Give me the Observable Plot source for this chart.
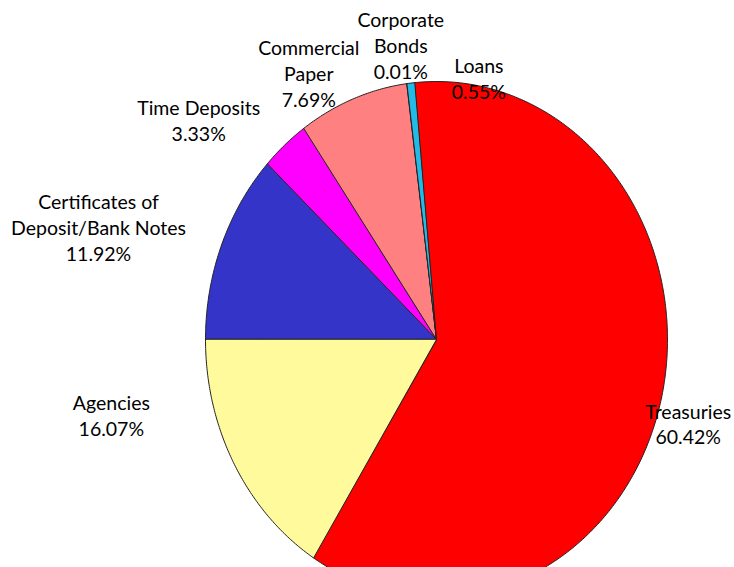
<!DOCTYPE html>
<html>
<head>
<meta charset="utf-8">
<script src="https://cdn.jsdelivr.net/npm/d3@7"></script>
<script src="https://cdn.jsdelivr.net/npm/@observablehq/plot@0.6"></script>
<style>
  html, body { margin: 0; padding: 0; background: #fff; overflow: hidden; }
  #chart { width: 734px; height: 567px; }
</style>
</head>
<body>
<div id="chart"></div>
<script>
// ---- data (clockwise from 9 o'clock) ----
const categories = ["Certificates of Deposit/Bank Notes", "Time Deposits", "Commercial Paper", "Corporate Bonds", "Loans", "Treasuries", "Agencies"];
const shares = [11.92, 3.33, 7.69, 0.01, 0.55, 60.42, 16.07];
const labelLines = [
  ["Certificates of", "Deposit/Bank Notes", "11.92%"],
  ["Time Deposits", "3.33%"],
  ["Commercial", "Paper", "7.69%"],
  ["Corporate", "Bonds", "0.01%"],
  ["Loans", "0.55%"],
  ["Treasuries", "60.42%"],
  ["Agencies", "16.07%"]
];
const colors = ["#3434C8", "#FF00FF", "#FF8080", "#1E90D0", "#22BBE8", "#FF0000", "#FFFA9C"];

// ---- layout (pixel offsets of each label from its slice's rim midpoint) ----
const RX = 231, RY = 258;
const labelOffsets = [[-123, -18], [-86, -25], [-44, -26], [-6, -39], [68, -5], [27, 24], [-123, -50]];

// ---- geometry from data ----
const total = d3.sum(shares);
const startAngle = -Math.PI / 2; // 9 o'clock, clockwise
let acc = startAngle;
const slices = shares.map((v, i) => {
  const a0 = acc, a1 = acc + v / total * 2 * Math.PI;
  acc = a1;
  return {name: categories[i], a0, a1, mid: (a0 + a1) / 2};
});
const poly = [];
for (const s of slices) {
  poly.push({name: s.name, x: 0, y: 0});
  const n = Math.max(2, Math.ceil((s.a1 - s.a0) / (Math.PI / 360)));
  for (let k = 0; k <= n; ++k) {
    const a = s.a0 + (s.a1 - s.a0) * k / n;
    poly.push({name: s.name, x: Math.sin(a), y: Math.cos(a)});
  }
}
const labels = slices.map((s, i) => ({
  text: labelLines[i].join("\n"),
  x: Math.sin(s.mid) + labelOffsets[i][0] / RX,
  y: Math.cos(s.mid) - labelOffsets[i][1] / RY
}));

const cx = 436, cy = 339;
const chart = Plot.plot({
  width: 734,
  height: 567,
  margin: 0,
  x: {axis: null, domain: [-1, 1], range: [cx - RX, cx + RX]},
  y: {axis: null, domain: [-1, 1], range: [cy + RY, cy - RY]},
  color: {domain: categories, range: colors},
  style: {fontFamily: "Lato, sans-serif", background: "#fff", overflow: "hidden"},
  marks: [
    Plot.line(poly, {x: "x", y: "y", z: "name", fill: "name", stroke: "#222", strokeWidth: 1, curve: "linear-closed"}),
    Plot.text(labels, {x: "x", y: "y", text: "text", fill: "#000", fontSize: 19.5, lineHeight: 1.33, textAnchor: "middle"})
  ]
});
document.getElementById("chart").appendChild(chart);
</script>
</body>
</html>
